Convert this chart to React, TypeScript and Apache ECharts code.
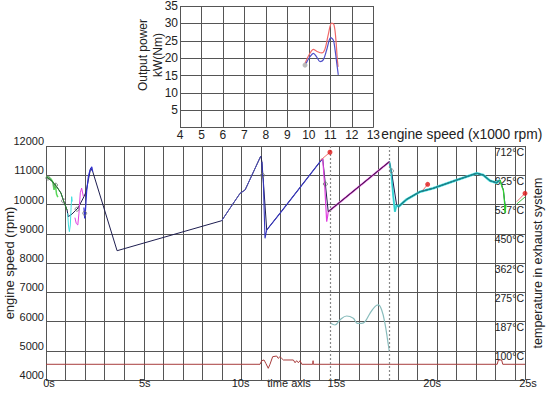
import React, { useEffect, useRef } from 'react';
import * as echarts from 'echarts';

const FONT = '"Liberation Sans", Arial, Helvetica, sans-serif';
const TXT = '#222';
const GRID = '#555';

// ---------- main chart: engine speed vs time ----------
const engineT = [0, 0.10, 0.31, 0.57, 0.78, 0.94, 1.10, 1.16, 1.36, 1.67, 1.92, 2.09, 2.21, 2.33, 2.44, 3.71, 9.17, 9.60, 10.13, 10.39, 11.21, 11.27, 11.34, 11.52, 12.21, 14.44, 14.73, 17.92, 18.06, 18.30, 18.39, 18.83, 19.52, 20.21, 21.44, 22.48, 22.82, 23.17, 23.52, 23.70, 23.87, 23.96];
const engineRpm = [10940, 10906, 10803, 10598, 10393, 10085, 9812, 9583, 9675, 9880, 10188, 10427, 10838, 11238, 11121, 8420, 9446, 9870, 10383, 10496, 11658, 11453, 10838, 9128, 9699, 11579, 9754, 11463, 11008, 9983, 9925, 10178, 10437, 10554, 10838, 11067, 11008, 10814, 10745, 10838, 10496, 9983];

const greenDarkT = [0, 0.31, 0.57, 0.78, 0.94, 1.10];
const greenDarkRpm = [10940, 10803, 10598, 10393, 10085, 9812];
const greenLightT = [0, 0.12, 0.25, 0.35, 0.42, 0.48, 0.55, 0.62];
const greenLightRpm = [10960, 10940, 10880, 10780, 10500, 10720, 10350, 10250];

const cyan1T = [1.13, 1.17, 1.22, 1.27, 1.31, 1.34, 1.37];
const cyan1Rpm = [9700, 9300, 9070, 9300, 9900, 10267, 10100];
const magenta1T = [1.51, 1.58, 1.66, 1.72, 1.79, 1.86, 1.95];
const magenta1Rpm = [9550, 9350, 9300, 9700, 10400, 10560, 10270];
const blue1T = [1.98, 2.02, 2.06, 2.12, 2.21, 2.30, 2.39, 2.44];
const blue1Rpm = [9900, 9520, 9800, 10438, 10950, 11180, 11290, 11120];

const blue2T = [9.17, 9.60, 10.13, 10.39, 11.21];
const blue2Rpm = [9446, 9870, 10383, 10496, 11658];
const blue3T = [11.27, 11.30, 11.34, 11.43, 11.52, 12.21, 14.44];
const blue3Rpm = [11453, 11000, 10838, 8845, 9128, 9699, 11579];

const magenta2T = [14.44, 14.55, 14.65, 14.70, 14.73];
const magenta2Rpm = [11579, 10600, 9412, 9600, 9754];
const purpleT = [14.73, 17.92];
const purpleRpm = [9754, 11463];

const cyan2T = [17.92, 18.02, 18.12, 18.21, 18.30, 18.39];
const cyan2Rpm = [11463, 11100, 10300, 9754, 9983, 9925];
const tealT = [18.39, 18.83, 19.52, 20.21, 21.44, 22.48, 22.82, 23.17, 23.52, 23.70];
const tealRpm = [9925, 10178, 10437, 10554, 10838, 11067, 11008, 10814, 10745, 10838];

const green2T = [23.70, 23.80, 23.87, 23.93, 23.96, 24.0];
const green2Rpm = [10838, 10600, 10496, 10100, 9700, 9983];

const redTrail1T = [14.30, 14.82];
const redTrail1Rpm = [11500, 11785];
const redTrail2T = [19.68, 19.92];
const redTrail2Rpm = [10496, 10690];
const redTrail3T = [24.57, 25.0];
const redTrail3Rpm = [10096, 10383];
const greenEndT = [24.57, 25.0];
const greenEndRpm = [10017, 10256];

const redDotT = [14.82, 19.92, 25.0];
const redDotRpm = [11785, 10690, 10383];

const markerT = [0.10, 0.50, 0.92, 1.62, 2.02, 11.30, 14.58, 18.03];
const markerRpm = [10906, 10660, 10120, 9840, 9700, 11000, 10700, 11150];

// temperature in exhaust system (°C, right axis)
const tempT = [14.86, 15.08, 15.34, 15.69, 16.04, 16.25, 16.48, 16.65, 16.91, 17.17, 17.34, 17.52, 17.69, 17.83, 17.92];
const tempC = [182, 177, 192, 204, 197, 182, 182, 187, 212, 232, 237, 222, 182, 132, 97];

// brown low signal (rpm scale)
const brownT = [0, 11.17, 11.26, 11.38, 11.48, 11.60, 11.69, 11.83, 12.04, 12.12, 12.21, 12.30, 12.39, 12.91, 13.00, 13.08, 13.17, 13.26, 13.35, 13.92, 13.94, 13.95, 23.55, 23.61, 23.78, 23.84, 25];
const brownRpm = [4537, 4537, 4660, 4684, 4560, 4400, 4537, 4797, 4820, 4740, 4797, 4740, 4684, 4684, 4591, 4660, 4591, 4660, 4537, 4537, 4660, 4537, 4537, 4684, 4684, 4537, 4537];

const dottedLinesT = [14.86, 17.92];

// ---------- inset: output power vs engine speed ----------
const powerRedX = [9.82, 10.05, 10.21, 10.36, 10.60, 10.75, 10.90, 11.06, 11.17, 11.26, 11.32, 11.36];
const powerRedY = [18.5, 21.4, 22.5, 22.0, 21.5, 22.6, 26.7, 30.1, 29.6, 25.2, 20.0, 17.5];
const powerBlueX = [9.87, 10.05, 10.21, 10.36, 10.52, 10.67, 10.83, 11.02, 11.14, 11.22, 11.30, 11.37];
const powerBlueY = [18.5, 20.4, 21.4, 20.4, 19.0, 19.5, 22.4, 25.9, 25.2, 22.4, 18.5, 15.2];
const powerStart = [9.82, 18.0];

const zip = (a: number[], b: number[]) => a.map((v, i) => [v, b[i]]);

function lineS(name: string, t: number[], v: number[], color: string, width = 1, z = 4, yIdx = 0) {
  return {
    name,
    type: 'line',
    xAxisIndex: 1,
    yAxisIndex: yIdx,
    data: zip(t, v),
    symbol: 'none',
    lineStyle: { color, width },
    itemStyle: { color },
    z,
    silent: true,
  };
}

export default function App() {
  const ref = useRef<HTMLDivElement>(null);
  useEffect(() => {
    const chart = echarts.init(ref.current!, null, { renderer: 'svg' });
    const option: any = {
      animation: false,
      backgroundColor: '#fff',
      textStyle: { fontFamily: FONT, color: TXT },
      grid: [
        { left: 46, top: 146, width: 479, height: 234, containLabel: false, outerBoundsMode: 'none' },
        { left: 180, top: 6, width: 193.3, height: 121.7, containLabel: false, outerBoundsMode: 'none' },
      ],
      xAxis: [
        {
          gridIndex: 0, type: 'value', min: 0, max: 24.5, interval: 1, position: 'bottom',
          axisLine: { show: false }, axisTick: { show: false }, axisLabel: { show: false },
          splitLine: { show: true, lineStyle: { color: GRID, width: 1 } },
        },
        {
          gridIndex: 0, type: 'value', min: 0, max: 25, interval: 5, position: 'bottom',
          axisLine: { show: false }, axisTick: { show: false }, splitLine: { show: false },
          axisLabel: { formatter: '{value}s', color: TXT, fontSize: 11, fontFamily: FONT, margin: -3, lineHeight: 11, padding: [0, 0, 0, 6] },
        },
        {
          gridIndex: 1, type: 'value', min: 4, max: 13, interval: 1, position: 'bottom',
          axisLine: { show: false }, axisTick: { show: false },
          splitLine: { show: true, lineStyle: { color: GRID, width: 1 } },
          axisLabel: { color: TXT, fontSize: 12, fontFamily: FONT, margin: 1 },
          name: 'engine speed (x1000 rpm)', nameLocation: 'end', nameGap: 8, nameMoveOverlap: false,
          nameTextStyle: { color: TXT, fontSize: 13.8, fontFamily: FONT, verticalAlign: 'top', padding: [0, 0, 0, 0] },
        },
      ],
      yAxis: [
        {
          gridIndex: 0, type: 'value', min: 4000, max: 12000, interval: 1000, position: 'left',
          axisLine: { show: false }, axisTick: { show: false },
          splitLine: { show: true, lineStyle: { color: GRID, width: 1 } },
          axisLabel: {
            color: TXT, fontSize: 11, fontFamily: FONT, margin: 2, verticalAlign: 'bottom', lineHeight: 10,
            formatter: (v: number) => String(v),
          },
          name: 'engine speed (rpm)', nameLocation: 'middle', nameGap: 30, nameRotate: 90, nameMoveOverlap: false,
          nameTextStyle: { color: TXT, fontSize: 13, fontFamily: FONT },
        },
        {
          gridIndex: 0, type: 'value', min: 12.5, max: 712.5, interval: 87.5, position: 'right',
          axisLine: { show: false }, axisTick: { show: false }, splitLine: { show: false },
          axisLabel: {
            inside: true, color: TXT, fontSize: 10.5, fontFamily: FONT, margin: 1, verticalAlign: 'top',
            formatter: (v: number) => (v < 50 ? '' : Math.floor(v + 1e-6) + '°C'),
          },
          name: 'temperature in exhaust system', nameLocation: 'middle', nameGap: 6, nameRotate: 90, nameMoveOverlap: false,
          nameTextStyle: { color: TXT, fontSize: 12.5, fontFamily: FONT, verticalAlign: 'top' },
        },
        {
          gridIndex: 1, type: 'value', min: 0, max: 35, interval: 5, position: 'left',
          axisLine: { show: false }, axisTick: { show: false },
          splitLine: { show: true, lineStyle: { color: GRID, width: 1 } },
          axisLabel: { color: TXT, fontSize: 12, fontFamily: FONT, margin: 2, formatter: (v: number) => (v === 0 ? '' : String(v)) },
        },
      ],
      graphic: [
        {
          type: 'text', x: 289, y: 383,
          style: { text: 'time axis', fill: TXT, font: `11px ${FONT}`, align: 'center', verticalAlign: 'middle' },
        },
        {
          type: 'text', x: 150, y: 55, rotation: Math.PI / 2,
          style: { text: 'Output power\nkW(Nm)', fill: TXT, font: `12px ${FONT}`, align: 'center', verticalAlign: 'middle', lineHeight: 15 },
        },
      ],
      series: [
        {
          ...lineS('brown', brownT, brownRpm, '#a83c3c', 1, 3),
          markLine: {
            silent: true, symbol: 'none', label: { show: false },
            lineStyle: { color: '#888', type: [2, 2], width: 1.2 },
            data: dottedLinesT.map((t) => ({ xAxis: t })),
          },
        },
        {
          ...lineS('temperature', tempT, tempC, '#88bcbc', 1.2, 3, 1),
          smooth: 0.4,
        },
        lineS('greenLight', greenLightT, greenLightRpm, '#58d858', 1.5, 2),
        lineS('cyan2halo', cyan2T, cyan2Rpm, '#50e8e8', 2, 2),
        lineS('tealHalo', tealT, tealRpm, '#48dede', 2.5, 2),
        lineS('magentaHalo', purpleT, purpleRpm, '#e060e0', 2, 2),
        lineS('engine', engineT, engineRpm, '#1e1e50', 1, 3),
        lineS('greenDark', greenDarkT, greenDarkRpm, '#2a8a2a', 1, 4),
        lineS('cyan1', cyan1T, cyan1Rpm, '#40e0e0', 1, 4),
        lineS('magenta1', magenta1T, magenta1Rpm, '#e040e0', 1, 4),
        lineS('blue1', blue1T, blue1Rpm, '#3030d0', 1.2, 4),
        lineS('blue2', blue2T, blue2Rpm, '#5050b8', 1, 4),
        lineS('blue3', blue3T, blue3Rpm, '#3838c0', 1.1, 4),
        lineS('magenta2', magenta2T, magenta2Rpm, '#e040e0', 1.2, 4),
        lineS('purple', purpleT, purpleRpm, '#6a1a5e', 1, 4),
        lineS('cyan2', cyan2T, cyan2Rpm, '#30c8c8', 1, 4),
        lineS('teal', tealT, tealRpm, '#1a8f8f', 1.1, 4),
        lineS('green2', green2T, green2Rpm, '#30d030', 1.3, 4),
        lineS('redTrail1', redTrail1T, redTrail1Rpm, '#f07070', 1, 4),
        lineS('redTrail2', redTrail2T, redTrail2Rpm, '#f07070', 1, 4),
        lineS('greenEnd', greenEndT, greenEndRpm, '#40c040', 1, 4),
        lineS('redTrail3', redTrail3T, redTrail3Rpm, '#f07070', 1, 4),
        {
          name: 'markers', type: 'scatter', xAxisIndex: 1, yAxisIndex: 0,
          data: zip(markerT, markerRpm), symbol: 'circle', symbolSize: 4,
          itemStyle: { color: 'rgba(0,0,0,0)', borderColor: '#777', borderWidth: 1 }, z: 5, silent: true,
        },
        {
          name: 'redDots', type: 'scatter', xAxisIndex: 1, yAxisIndex: 0,
          data: zip(redDotT, redDotRpm), symbol: 'circle', symbolSize: 5,
          itemStyle: { color: '#e01818' }, z: 6, silent: true,
        },
        {
          name: 'powerRed', type: 'line', xAxisIndex: 2, yAxisIndex: 2,
          data: zip(powerRedX, powerRedY), smooth: 0.35, symbol: 'none',
          lineStyle: { color: '#f06868', width: 1.2 }, z: 3, silent: true,
        },
        {
          name: 'powerBlue', type: 'line', xAxisIndex: 2, yAxisIndex: 2,
          data: zip(powerBlueX, powerBlueY), smooth: 0.35, symbol: 'none',
          lineStyle: { color: '#5050c8', width: 1.2 }, z: 4, silent: true,
        },
        {
          name: 'powerStart', type: 'scatter', xAxisIndex: 2, yAxisIndex: 2,
          data: [powerStart], symbol: 'circle', symbolSize: 5,
          itemStyle: { color: '#aaa' }, z: 5, silent: true,
        },
      ],
    };
    chart.setOption(option);
    return () => chart.dispose();
  }, []);
  return (
    <div
      ref={ref}
      style={{ position: 'fixed', left: 0, top: 0, width: 547, height: 397, background: '#fff' }}
    />
  );
}
